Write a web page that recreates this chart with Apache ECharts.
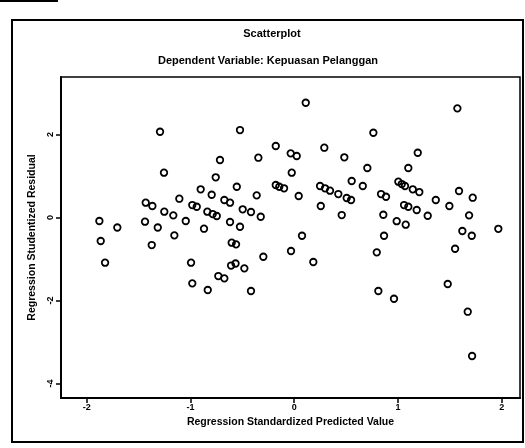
<!DOCTYPE html>
<html>
<head>
<meta charset="utf-8">
<title>Scatterplot</title>
<script src="https://cdn.jsdelivr.net/npm/echarts@6/dist/echarts.min.js"></script>
<style>
    html, body { margin: 0; padding: 0; background: #fff; }
    #chart { width: 525px; height: 448px; }
</style>
</head>
<body>
<div id="chart"></div>
<script>
// standardized predicted value (x) and studentized residual (y)
const predictedValue = [
    -1.294, -0.523, -0.178, -0.034, 0.024, -0.716, -0.346, -1.256, -0.757, -0.024,
    -0.902, -0.796, -0.554, -0.178, -0.144, -0.098, -0.362, 0.043, -1.108, -1.432,
    -1.368, -0.983, -0.940, -0.674, -0.619, -0.497, -0.417, -0.323, -1.253, -1.166,
    -0.838, -0.786, -0.747, -1.879, -1.706, -1.439, -1.316, -1.046, -0.870, -0.619,
    -0.523, -1.866, -1.374, -1.156, -0.603, -0.561, -0.031, -0.298, -1.824, -0.995,
    -0.609, -0.566, -0.481, -0.732, -0.674, -0.983, -0.834, -0.417, 0.075, 0.111,
    1.573, 0.763, 0.290, 0.483, 1.191, 0.705, 1.100, 0.554, 0.661, 0.249,
    0.297, 0.345, 0.425, 0.506, 0.548, 0.256, 0.458, 0.837, 0.885, 1.004,
    1.037, 1.068, 1.143, 1.206, 1.365, 1.589, 1.721, 1.059, 1.100, 1.181,
    1.287, 1.496, 1.686, 0.859, 0.988, 1.075, 1.621, 1.968, 1.712, 0.866,
    0.184, 0.796, 1.551, 0.811, 0.962, 1.480, 1.673, 1.715,
];
const studentizedResidual = [
    2.067, 2.108, 1.723, 1.547, 1.482, 1.386, 1.441, 1.080, 0.969, 1.080,
    0.680, 0.549, 0.742, 0.783, 0.742, 0.704, 0.535, 0.518, 0.453, 0.357,
    0.277, 0.301, 0.260, 0.422, 0.357, 0.198, 0.133, 0.019, 0.140, 0.053,
    0.140, 0.084, 0.036, -0.084, -0.241, -0.101, -0.241, -0.084, -0.270, -0.108,
    -0.222, -0.566, -0.663, -0.429, -0.607, -0.646, -0.807, -0.945, -1.089, -1.089,
    -1.157, -1.108, -1.224, -1.410, -1.465, -1.586, -1.747, -1.771, -0.439, 2.766,
    2.631, 2.043, 1.682, 1.451, 1.561, 1.193, 1.193, 0.880, 0.759, 0.759,
    0.704, 0.646, 0.566, 0.470, 0.422, 0.277, 0.060, 0.566, 0.501, 0.863,
    0.807, 0.759, 0.680, 0.614, 0.422, 0.639, 0.477, 0.301, 0.260, 0.181,
    0.043, 0.277, 0.053, 0.067, -0.089, -0.173, -0.325, -0.272, -0.439, -0.439,
    -1.072, -0.839, -0.752, -1.771, -1.957, -1.602, -2.270, -3.337,
];
const xTicks = [-2, -1, 0, 1, 2];
const yTicks = [-4, -2, 0, 2];

const points = predictedValue.map((x, i) => [x, studentizedResidual[i]]);

const chart = echarts.init(document.getElementById('chart'), null, { renderer: 'canvas' });

const font = 'Liberation Sans, Arial, sans-serif';

const option = {
    animation: false,
    backgroundColor: '#fff',
    title: [
        {
            text: 'Scatterplot',
            left: 267,
            top: 23,
            textAlign: 'center',
            textStyle: { fontFamily: font, fontSize: 11, fontWeight: 'bold', color: '#000' },
        },
        {
            text: 'Dependent Variable: Kepuasan Pelanggan',
            left: 263,
            top: 50,
            textAlign: 'center',
            textStyle: { fontFamily: font, fontSize: 11, fontWeight: 'bold', color: '#000' },
        },
    ],
    grid: {
        left: 61,
        right: 5,
        top: 77,
        bottom: 50,
        show: true,
        borderColor: '#000',
        borderWidth: 1.5,
        backgroundColor: '#fff',
    },
    xAxis: {
        type: 'value',
        min: -2.249,
        max: 2.177,
        name: 'Regression Standardized Predicted Value',
        nameLocation: 'middle',
        nameGap: 18,
        nameTextStyle: { fontFamily: font, fontSize: 10.5, fontWeight: 'bold', color: '#000' },
        axisLine: { onZero: false, lineStyle: { color: '#000', width: 2 } },
        axisTick: { customValues: xTicks, length: 5, lineStyle: { color: '#000', width: 1.5 } },
        axisLabel: {
            customValues: xTicks,
            margin: 5,
            fontFamily: font,
            fontSize: 9,
            fontWeight: 'bold',
            color: '#000',
        },
        splitLine: { show: false },
    },
    yAxis: {
        type: 'value',
        min: -4.349,
        max: 3.386,
        name: 'Regression Studentized Residual',
        nameLocation: 'middle',
        nameGap: 21,
        nameTextStyle: { fontFamily: font, fontSize: 10.5, fontWeight: 'bold', color: '#000' },
        axisLine: { onZero: false, lineStyle: { color: '#000', width: 2 } },
        axisTick: { customValues: yTicks, length: 5, lineStyle: { color: '#000', width: 1.5 } },
        axisLabel: {
            customValues: yTicks,
            rotate: 90,
            margin: 6,
            fontFamily: font,
            fontSize: 9,
            fontWeight: 'bold',
            color: '#000',
        },
        splitLine: { show: false },
    },
    series: [
        {
            type: 'scatter',
            data: points,
            symbol: 'circle',
            symbolSize: 6.5,
            itemStyle: {
                color: 'rgba(0,0,0,0)',
                borderColor: '#000',
                borderWidth: 1.8,
                opacity: 1,
            },
            emphasis: { disabled: true },
        },
    ],
    graphic: [
        // outer chart frame
        {
            type: 'rect',
            shape: { x: 12, y: 20, width: 511, height: 422 },
            style: { fill: null, stroke: '#000', lineWidth: 2 },
            silent: true,
        },
        // stray edge of the scanned page
        {
            type: 'line',
            shape: { x1: 0, y1: 1, x2: 58, y2: 1 },
            style: { stroke: '#000', lineWidth: 2 },
            silent: true,
        },
    ],
};

chart.setOption(option);
</script>
</body>
</html>
